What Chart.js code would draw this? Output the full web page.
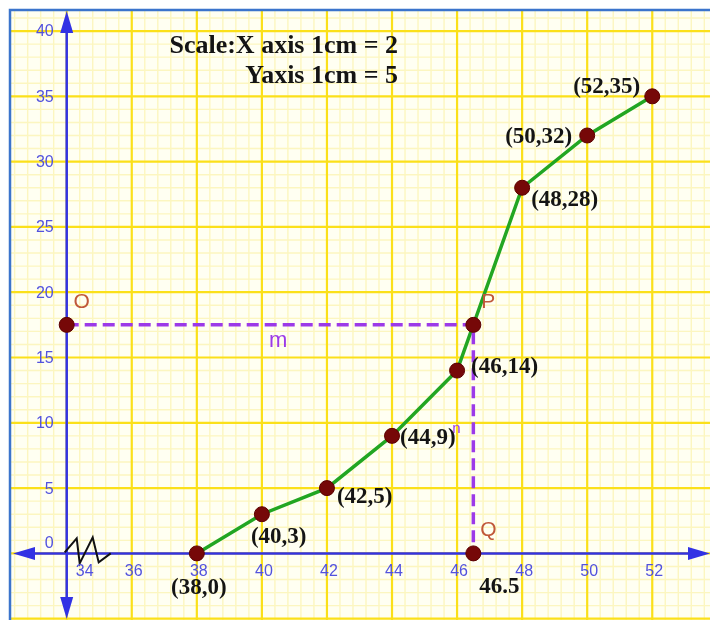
<!DOCTYPE html>
<html>
<head>
<meta charset="utf-8">
<title>Ogive</title>
<script src="https://cdn.jsdelivr.net/npm/chart.js@4.4.1/dist/chart.umd.min.js"></script>
<style>
  html, body { margin: 0; padding: 0; background: #fff; }
  canvas { display: block; }
</style>
</head>
<body>
<canvas id="myChart" width="710" height="620"></canvas>
<script>
// ogive points (upper class limit, cumulative frequency)
var xValues = [38, 40, 42, 44, 46, 48, 50, 52];
var yValues = [0, 3, 5, 9, 14, 28, 32, 35];

// median construction: O on y axis, P on the curve, Q on x axis
var guideX = [34, 46.5, 46.5];
var guideY = [17.5, 17.5, 0];
var guideNames = ['O', 'P', 'Q'];

// tick labels
var xTicks = [34, 36, 38, 40, 42, 44, 46, 48, 50, 52];
var yTicks = [0, 5, 10, 15, 20, 25, 30, 35, 40];

var scaleLines = ['Scale:X axis 1cm = 2', 'Yaxis 1cm = 5'];

// where each point label sits relative to its dot [dx, dy, align]
var labelPos = [
    [2, 35, 'center'],
    [-11, 23, 'left'],
    [10, 9, 'left'],
    [8, 2, 'left'],
    [14, -4, 'left'],
    [9, 12, 'left'],
    [-15, 2, 'right'],
    [-12, -9, 'right']
];

const AXIS_BLUE = '#3232e4';
const TICK_BLUE = '#5252de';
const DOT = '#760808';
const PURPLE = '#9c3ae8';
const LETTER = '#c0583a';
const SERIF = '"Liberation Serif", "Times New Roman", serif';
const SANS = '"Liberation Sans", Arial, sans-serif';

function pts(xs, ys) {
    let out = [];
    for (let i = 0; i < xs.length; ++i) {
        out.push({ x: xs[i], y: ys[i] });
    }
    return out;
}

// graph paper, border, axes with arrows, tick numbers
const paper = {
    id: 'paper',
    beforeDraw(chart) {
        const ctx = chart.ctx;
        const a = chart.chartArea;
        const sx = chart.scales.x, sy = chart.scales.y;
        ctx.save();
        ctx.fillStyle = '#ffffff';
        ctx.fillRect(0, 0, chart.width, chart.height);
        ctx.fillStyle = '#fffff2';
        ctx.fillRect(a.left, a.top, a.right - a.left, a.bottom - a.top);

        // minor lines first, then major
        for (let pass = 0; pass < 2; ++pass) {
            ctx.strokeStyle = pass === 0 ? 'rgba(248,236,130,0.45)' : '#fbe01a';
            ctx.lineWidth = pass === 0 ? 1.4 : 2.2;
            ctx.beginPath();
            for (let k = Math.ceil(sx.min / 0.4); k <= Math.floor(sx.max / 0.4); ++k) {
                if ((k % 5 === 0) !== (pass === 1)) continue;
                let px = sx.getPixelForValue(k * 0.4);
                ctx.moveTo(px, a.top);
                ctx.lineTo(px, a.bottom);
            }
            for (let k = Math.ceil(sy.min); k <= Math.floor(sy.max); ++k) {
                if ((k % 5 === 0) !== (pass === 1)) continue;
                let py = sy.getPixelForValue(k);
                ctx.moveTo(a.left, py);
                ctx.lineTo(a.right, py);
            }
            ctx.stroke();
        }

        // frame
        ctx.strokeStyle = '#3b74cc';
        ctx.lineWidth = 2.5;
        ctx.beginPath();
        ctx.moveTo(a.left, chart.height);
        ctx.lineTo(a.left, a.top);
        ctx.lineTo(chart.width, a.top);
        ctx.stroke();
        ctx.restore();
    },
    beforeDatasetsDraw(chart) {
        const ctx = chart.ctx;
        const a = chart.chartArea;
        const sx = chart.scales.x, sy = chart.scales.y;
        const ox = sx.getPixelForValue(xTicks[0]);
        const oy = sy.getPixelForValue(0);
        ctx.save();
        ctx.strokeStyle = AXIS_BLUE;
        ctx.fillStyle = AXIS_BLUE;
        ctx.lineWidth = 2.5;
        ctx.beginPath();
        ctx.moveTo(a.left + 20, oy);
        ctx.lineTo(a.right - 16, oy);
        ctx.moveTo(ox, a.top + 18);
        ctx.lineTo(ox, a.bottom - 18);
        ctx.stroke();

        function arrow(tx, ty, dx, dy) {
            // tip at (tx,ty), pointing along (dx,dy)
            const len = 22, half = 6.5;
            const bx = tx - dx * len, by = ty - dy * len;
            ctx.beginPath();
            ctx.moveTo(tx, ty);
            ctx.lineTo(bx - dy * half, by + dx * half);
            ctx.lineTo(bx + dy * half, by - dx * half);
            ctx.closePath();
            ctx.fill();
        }
        arrow(ox, a.top + 1, 0, -1);
        arrow(ox, a.bottom - 1, 0, 1);
        arrow(a.left + 3, oy, -1, 0);
        arrow(a.right, oy, 1, 0);

        // axis break zigzag
        ctx.strokeStyle = '#111';
        ctx.lineWidth = 2;
        ctx.beginPath();
        ctx.moveTo(ox - 2, oy - 1);
        ctx.lineTo(ox + 10, oy - 15);
        ctx.lineTo(ox + 13, oy + 10);
        ctx.lineTo(ox + 26, oy - 16);
        ctx.lineTo(ox + 32, oy + 9);
        ctx.lineTo(ox + 44, oy);
        ctx.stroke();

        ctx.font = '16px ' + SANS;
        ctx.fillStyle = TICK_BLUE;
        ctx.textBaseline = 'middle';
        ctx.textAlign = 'center';
        for (let i = 0; i < xTicks.length; ++i) {
            let px = sx.getPixelForValue(xTicks[i]) + (i === 0 ? 18 : 2);
            ctx.fillText(String(xTicks[i]), px, oy + 18);
        }
        ctx.textAlign = 'right';
        for (let i = 0; i < yTicks.length; ++i) {
            let py = sy.getPixelForValue(yTicks[i]) + (yTicks[i] === 0 ? -10 : 1);
            ctx.fillText(String(yTicks[i]), ox - 13, py);
        }
        ctx.restore();
    },
    afterDatasetsDraw(chart) {
        const ctx = chart.ctx;
        const sx = chart.scales.x, sy = chart.scales.y;
        ctx.save();
        ctx.textBaseline = 'middle';

        // small segment names on the dashed guides
        ctx.fillStyle = PURPLE;
        ctx.font = '22px ' + SANS;
        ctx.textAlign = 'center';
        ctx.fillText('m', sx.getPixelForValue(40.5), sy.getPixelForValue(guideY[0]) + 16);
        ctx.font = '15px ' + SANS;
        ctx.fillText('n', sx.getPixelForValue(guideX[2]) - 17, sy.getPixelForValue(9.5));

        // O, P, Q
        ctx.fillStyle = LETTER;
        ctx.font = '21px ' + SANS;
        for (let i = 0; i < guideNames.length; ++i) {
            ctx.fillText(guideNames[i], sx.getPixelForValue(guideX[i]) + 15,
                sy.getPixelForValue(guideY[i]) - 23);
        }

        // coordinate labels
        ctx.fillStyle = '#141414';
        ctx.font = 'bold 23px ' + SERIF;
        for (let i = 0; i < xValues.length; ++i) {
            let p = labelPos[i];
            ctx.textAlign = p[2];
            ctx.fillText('(' + xValues[i] + ',' + yValues[i] + ')',
                sx.getPixelForValue(xValues[i]) + p[0], sy.getPixelForValue(yValues[i]) + p[1]);
        }
        // median value under Q
        ctx.textAlign = 'left';
        ctx.fillText(String(guideX[2]), sx.getPixelForValue(guideX[2]) + 6, sy.getPixelForValue(0) + 34);

        // scale note
        ctx.font = 'bold 26px ' + SERIF;
        ctx.textAlign = 'right';
        ctx.textBaseline = 'alphabetic';
        ctx.fillText(scaleLines[0], 398, 53);
        ctx.fillText(scaleLines[1], 398, 83);
        ctx.restore();
    }
};

const rendering = document.getElementById('myChart').getContext('2d');

const config = {
    type: 'scatter',
    data: {
        datasets: [
            {
                label: 'ogive',
                data: pts(xValues, yValues),
                showLine: true,
                borderColor: '#22a622',
                borderWidth: 3.5,
                pointRadius: 7.5,
                pointBackgroundColor: DOT,
                pointBorderColor: '#5c0000',
                pointBorderWidth: 1,
                order: 2
            },
            {
                label: 'median',
                data: pts(guideX, guideY),
                showLine: true,
                borderColor: PURPLE,
                borderWidth: 3.5,
                borderDash: [12, 6],
                pointRadius: 7.5,
                pointBackgroundColor: DOT,
                pointBorderColor: '#5c0000',
                pointBorderWidth: 1,
                order: 1
            }
        ]
    },
    options: {
        responsive: false,
        animation: false,
        layout: { autoPadding: false, padding: { left: 10, top: 10, right: 0, bottom: 0 } },
        plugins: {
            legend: { display: false },
            tooltip: { enabled: false }
        },
        scales: {
            x: { type: 'linear', min: 32.257, max: 53.775, display: false },
            y: { type: 'linear', min: -5.1, max: 41.61, display: false }
        }
    },
    plugins: [paper]
};

const renderingChart = new Chart(rendering, config);
</script>
</body>
</html>
